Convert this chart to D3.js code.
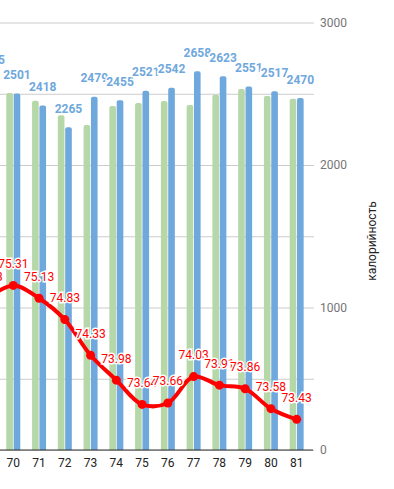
<!DOCTYPE html>
<html>
<head>
<meta charset="utf-8">
<script src="https://cdn.jsdelivr.net/npm/d3@7"></script>
<style>
    body { margin: 0; background: #fff; }
    svg { display: block; font-family: Roboto, Arial, sans-serif; }
</style>
</head>
<body>
<div id="chart"></div>
<script>
// chart data (first year is cut by the left edge of the picture)
var years = ["69", "70", "71", "72", "73", "74", "75", "76", "77", "78", "79", "80", "81"];
var greenVals = [2520, 2505, 2451, 2349, 2281, 2414, 2435, 2449, 2421, 2493, 2533, 2484, 2465];
var blueVals = [2605, 2501, 2418, 2265, 2479, 2455, 2521, 2542, 2658, 2623, 2551, 2517, 2470];
var lifeVals = [75.13, 75.31, 75.13, 74.83, 74.33, 73.98, 73.64, 73.66, 74.03, 73.91, 73.86, 73.58, 73.43];
var rightTicks = [0, 500, 1000, 1500, 2000, 2500, 3000];

var width = 394, height = 489;
var plotTop = 22.5, plotBottom = 450;
var step = 25.76;
var xStart = 13.3 - step * 1.5; // centre of "70" sits at 13.3

var svg = d3.select("#chart")
    .append("svg")
    .attr("width", width)
    .attr("height", height);

var x0 = d3.scaleBand()
    .domain(years)
    .range([xStart, xStart + step * years.length]);

var x1 = d3.scaleBand()
    .domain(["green", "blue"])
    .range([0, x0.bandwidth()])
    .paddingInner(0.1)
    .paddingOuter(0.8);

var yR = d3.scaleLinear().domain([0, 3000]).range([plotBottom, plotTop]);
var yL = d3.scaleLinear().domain([73, 79]).range([plotBottom, plotTop]);

// grid + right axis labels
var yAxis = svg.append("g")
    .attr("class", "y-axis")
    .call(d3.axisRight(yR)
        .tickValues(rightTicks)
        .tickSize(314)
        .tickPadding(6)
        .tickFormat(function (d) { return d % 1000 === 0 ? d : ""; }));
yAxis.select(".domain").remove();
yAxis.selectAll("line").attr("stroke", "#cccccc");
yAxis.selectAll("text")
    .attr("fill", "#757575")
    .style("font-size", "12px")
    .style("font-family", "Roboto, Arial, sans-serif");

// bars with rounded tops
function barPath(x, y, w, h, r) {
    r = Math.min(r, w / 2, h);
    return "M" + x + "," + (y + h) +
        "V" + (y + r) +
        "Q" + x + "," + y + " " + (x + r) + "," + y +
        "H" + (x + w - r) +
        "Q" + (x + w) + "," + y + " " + (x + w) + "," + (y + r) +
        "V" + (y + h) + "Z";
}

var groups = svg.append("g").attr("class", "bars")
    .selectAll("g")
    .data(years)
    .enter().append("g")
    .attr("transform", function (d) { return "translate(" + x0(d) + ",0)"; });

groups.append("path")
    .attr("fill", "#b6d7a8")
    .attr("d", function (d, i) {
        var y = yR(greenVals[i]);
        return barPath(x1("green"), y, x1.bandwidth(), plotBottom - y, 2);
    });

groups.append("path")
    .attr("fill", "#6fa8dc")
    .attr("d", function (d, i) {
        var y = yR(blueVals[i]);
        return barPath(x1("blue"), y, x1.bandwidth(), plotBottom - y, 2);
    });

// baseline
svg.append("line")
    .attr("x1", 0).attr("x2", 313)
    .attr("y1", plotBottom).attr("y2", plotBottom)
    .attr("stroke", "#333333")
    .attr("stroke-width", 1);

// x axis labels
var xAxis = svg.append("g")
    .attr("transform", "translate(0," + plotBottom + ")")
    .call(d3.axisBottom(x0).tickSize(0).tickPadding(8));
xAxis.select(".domain").remove();
xAxis.selectAll("text")
    .attr("fill", "#222222")
    .style("font-size", "12px")
    .style("font-family", "Roboto, Arial, sans-serif");

// red line (left axis, hidden)
var cx = function (d, i) { return x0(years[i]) + x0.bandwidth() / 2; };
var line = d3.line()
    .x(cx)
    .y(function (d) { return yL(d); })
    .curve(d3.curveCatmullRom.alpha(0.5));

svg.append("path")
    .datum(lifeVals)
    .attr("fill", "none")
    .attr("stroke", "#ff0000")
    .attr("stroke-width", 4)
    .attr("stroke-linejoin", "round")
    .attr("d", line);

svg.append("g").selectAll("circle")
    .data(lifeVals)
    .enter().append("circle")
    .attr("cx", cx)
    .attr("cy", function (d) { return yL(d); })
    .attr("r", 4.5)
    .attr("fill", "#ff0000");

// blue value labels
svg.append("g").selectAll("text")
    .data(blueVals)
    .enter().append("text")
    .attr("x", function (d, i) { return x0(years[i]) + x1("blue") + x1.bandwidth() / 2; })
    .attr("y", function (d) { return yR(d) - 14.5; })
    .attr("text-anchor", "middle")
    .attr("fill", "#6fa8dc")
    .attr("stroke", "#ffffff")
    .attr("stroke-width", 3)
    .attr("paint-order", "stroke")
    .style("font-size", "12px")
    .style("font-weight", "bold")
    .text(function (d) { return d; });

// red value labels
svg.append("g").selectAll("text")
    .data(lifeVals)
    .enter().append("text")
    .attr("x", cx)
    .attr("y", function (d) { return yL(d) - 17.5; })
    .attr("text-anchor", "middle")
    .attr("fill", "#ff0000")
    .attr("stroke", "#ffffff")
    .attr("stroke-width", 3)
    .attr("paint-order", "stroke")
    .style("font-size", "12px")
    .text(function (d) { return d; });

// right axis title
svg.append("text")
    .attr("transform", "translate(372,241) rotate(-90)")
    .attr("text-anchor", "middle")
    .attr("dominant-baseline", "central")
    .attr("fill", "#222222")
    .style("font-size", "12px")
    .text("калорийность");
</script>
</body>
</html>
